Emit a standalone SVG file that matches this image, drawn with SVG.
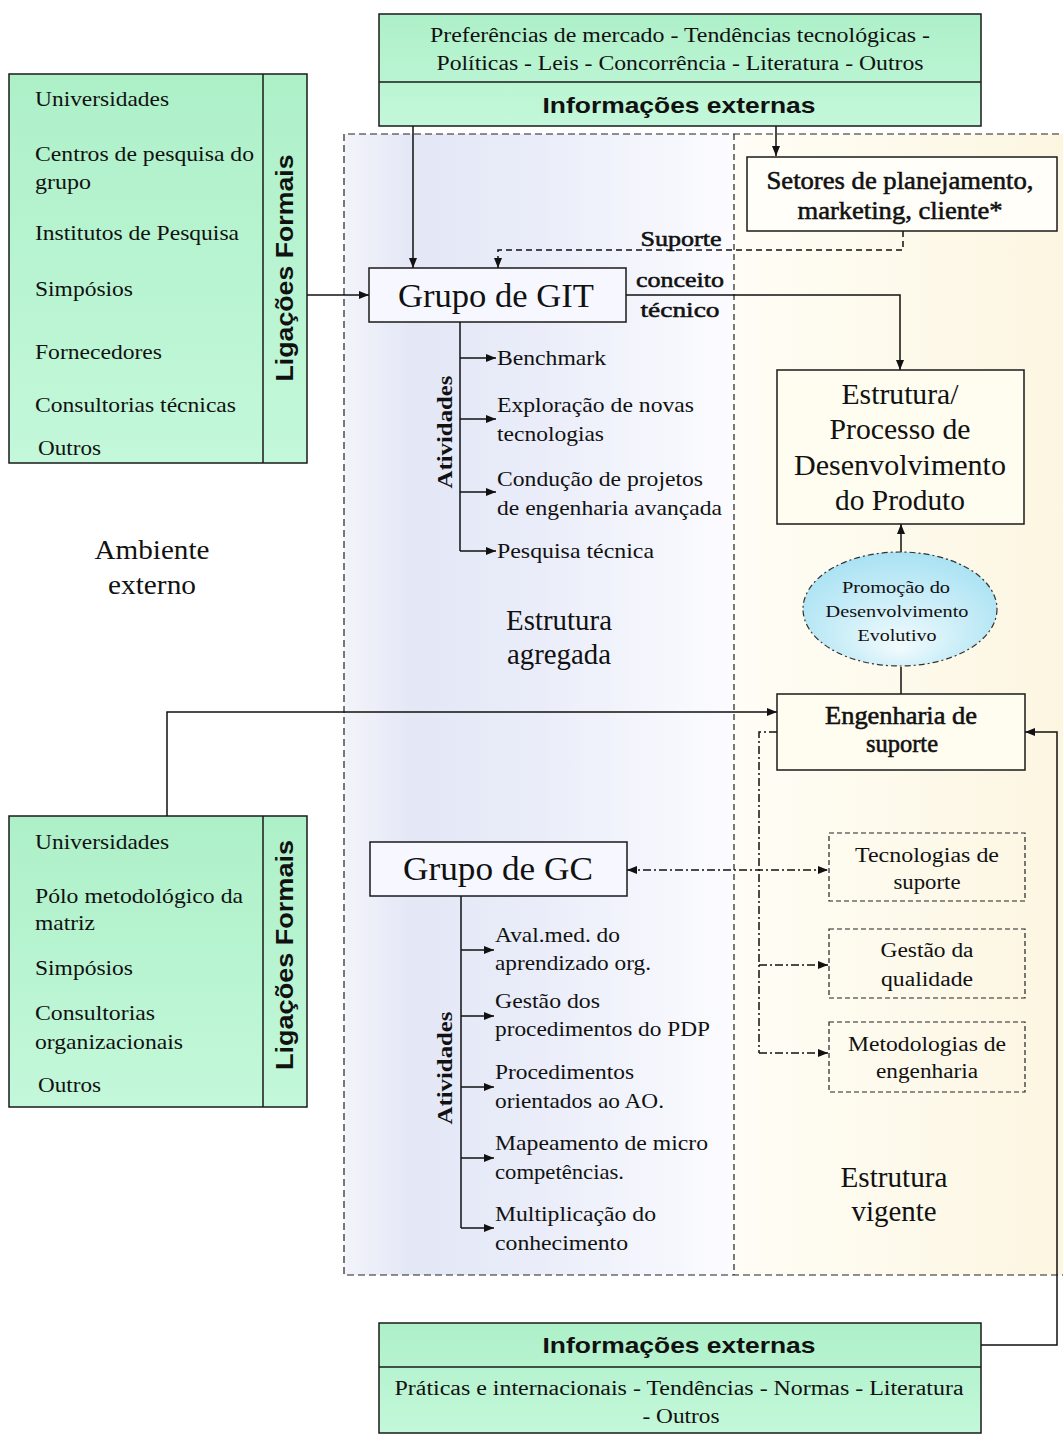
<svg xmlns="http://www.w3.org/2000/svg" width="1063" height="1435" viewBox="0 0 1063 1435">
<defs>
<style>
.serif{font-family:"Liberation Serif","Times New Roman",serif;fill:#111}
.semi{font-family:"Liberation Serif","Times New Roman",serif;fill:#111;stroke:#111;stroke-width:0.55}
.sb{font-family:"Liberation Serif","Times New Roman",serif;font-weight:bold;fill:#111}
.sans{font-family:"Liberation Sans",Arial,sans-serif;font-weight:bold;fill:#111}
.box{stroke:#1a1a1a;stroke-width:1.5}
.green{fill:url(#gGreen)}
.conn{fill:none;stroke:#111;stroke-width:1.5}
.dash{stroke-dasharray:6 4}
.dd{stroke-dasharray:8 3 2 3}
</style>
<linearGradient id="gGreen" x1="0" y1="0" x2="0" y2="1">
<stop offset="0" stop-color="#adf0c8"/>
<stop offset="1" stop-color="#c3f8da"/>
</linearGradient>
<linearGradient id="gLeft" x1="0" y1="0" x2="1" y2="0">
<stop offset="0" stop-color="#f3f4fa"/>
<stop offset="0.18" stop-color="#e3e7f6"/>
<stop offset="0.5" stop-color="#eaedf9"/>
<stop offset="1" stop-color="#fcfcff"/>
</linearGradient>
<linearGradient id="gRight" x1="0" y1="0" x2="1" y2="0">
<stop offset="0" stop-color="#fffdf6"/>
<stop offset="1" stop-color="#fcf6e1"/>
</linearGradient>
<radialGradient id="gEll" cx="0.5" cy="0.6" r="0.6" fx="0.5" fy="0.85">
<stop offset="0" stop-color="#f2fbfd"/>
<stop offset="1" stop-color="#a9e2f3"/>
</radialGradient>
<marker id="arr" viewBox="0 0 10 8" refX="10" refY="4" markerWidth="10" markerHeight="8" markerUnits="userSpaceOnUse" orient="auto-start-reverse">
<path d="M0,0 L10,4 L0,8 z" fill="#111"/>
</marker>
</defs>

<rect width="1063" height="1435" fill="#ffffff"/>

<g id="zones">
<rect x="344" y="134" width="390" height="1141" fill="url(#gLeft)"/>
<rect x="734" y="134" width="329" height="1141" fill="url(#gRight)"/>
<path d="M1070,134 H344 V1275 H1070" fill="none" stroke="#222" stroke-width="1.2" stroke-dasharray="7 4"/>
<line x1="734" y1="134" x2="734" y2="1275" stroke="#222" stroke-width="1.2" stroke-dasharray="6 4"/>
</g>

<g id="labels">
<text class="serif" font-size="28" x="152" y="559" text-anchor="middle" textLength="115" lengthAdjust="spacingAndGlyphs">Ambiente</text>
<text class="serif" font-size="28" x="152" y="594" text-anchor="middle" textLength="88" lengthAdjust="spacingAndGlyphs">externo</text>
<text class="serif" font-size="29" x="559" y="630" text-anchor="middle" textLength="106" lengthAdjust="spacingAndGlyphs">Estrutura</text>
<text class="serif" font-size="29" x="559" y="664" text-anchor="middle" textLength="104" lengthAdjust="spacingAndGlyphs">agregada</text>
<text class="serif" font-size="29" x="894" y="1187" text-anchor="middle" textLength="107" lengthAdjust="spacingAndGlyphs">Estrutura</text>
<text class="serif" font-size="29" x="894" y="1221" text-anchor="middle" textLength="85" lengthAdjust="spacingAndGlyphs">vigente</text>
<text class="semi" font-size="22" x="681" y="246" text-anchor="middle" textLength="81" lengthAdjust="spacingAndGlyphs">Suporte</text>
<text class="semi" font-size="22" x="680" y="287" text-anchor="middle" textLength="88" lengthAdjust="spacingAndGlyphs">conceito</text>
<text class="semi" font-size="22" x="680" y="317" text-anchor="middle" textLength="79" lengthAdjust="spacingAndGlyphs">técnico</text>
</g>

<g id="connectors">
<line class="conn" x1="413" y1="126" x2="413" y2="268" marker-end="url(#arr)"/>
<line class="conn" x1="776" y1="126" x2="776" y2="156" marker-end="url(#arr)"/>
<path class="conn dash" d="M903,231 V250 H498 V268" marker-end="url(#arr)"/>
<line class="conn" x1="307" y1="295" x2="369" y2="295" marker-end="url(#arr)"/>
<path class="conn" d="M626,295 H900 V370" marker-end="url(#arr)"/>
<path class="conn" d="M460,322 V551"/>
<line class="conn" x1="460" y1="358" x2="496" y2="358" marker-end="url(#arr)"/>
<line class="conn" x1="460" y1="419" x2="496" y2="419" marker-end="url(#arr)"/>
<line class="conn" x1="460" y1="492" x2="496" y2="492" marker-end="url(#arr)"/>
<line class="conn" x1="460" y1="551" x2="496" y2="551" marker-end="url(#arr)"/>
<line class="conn" x1="901" y1="552" x2="901" y2="524" stroke-width="3" marker-end="url(#arr)"/>
<line class="conn" x1="901" y1="667" x2="901" y2="694" stroke-width="3"/>
<path class="conn" d="M167,816 V712 H777" marker-end="url(#arr)"/>
<path class="conn" d="M981,1345 H1057 V732 H1025" marker-end="url(#arr)"/>
<path class="conn dd" d="M777,732 H759 V1053"/>
<line class="conn dd" x1="759" y1="965" x2="828" y2="965" marker-end="url(#arr)"/>
<line class="conn dd" x1="759" y1="1053" x2="828" y2="1053" marker-end="url(#arr)"/>
<line class="conn dd" x1="627" y1="870" x2="828" y2="870" marker-start="url(#arr)" marker-end="url(#arr)"/>
<path class="conn" d="M461,896 V1228"/>
<line class="conn" x1="461" y1="950" x2="494" y2="950" marker-end="url(#arr)"/>
<line class="conn" x1="461" y1="1016" x2="494" y2="1016" marker-end="url(#arr)"/>
<line class="conn" x1="461" y1="1087" x2="494" y2="1087" marker-end="url(#arr)"/>
<line class="conn" x1="461" y1="1158" x2="494" y2="1158" marker-end="url(#arr)"/>
<line class="conn" x1="461" y1="1228" x2="494" y2="1228" marker-end="url(#arr)"/>
</g>

<g id="info-top">
<rect class="box green" x="379" y="14" width="602" height="112"/>
<line x1="379" y1="82" x2="981" y2="82" stroke="#1a1a1a" stroke-width="1.5"/>
<text class="serif" font-size="20" x="680" y="42" text-anchor="middle" textLength="500" lengthAdjust="spacingAndGlyphs">Preferências de mercado - Tendências tecnológicas -</text>
<text class="serif" font-size="20" x="680" y="70" text-anchor="middle" textLength="487" lengthAdjust="spacingAndGlyphs">Políticas - Leis - Concorrência - Literatura - Outros</text>
<text class="sans" font-size="22" x="679" y="113" text-anchor="middle" textLength="273" lengthAdjust="spacingAndGlyphs">Informações externas</text>
</g>

<g id="ligacoes-top">
<rect class="box green" x="9" y="74" width="298" height="389"/>
<line x1="263" y1="74" x2="263" y2="463" stroke="#1a1a1a" stroke-width="1.5"/>
<text class="sans" font-size="23" transform="translate(293,268) rotate(-90)" text-anchor="middle" textLength="227" lengthAdjust="spacingAndGlyphs">Ligações Formais</text>
<text class="serif" font-size="22" x="35" y="106" textLength="134" lengthAdjust="spacingAndGlyphs">Universidades</text>
<text class="serif" font-size="22" x="35" y="161" textLength="219" lengthAdjust="spacingAndGlyphs">Centros de pesquisa do</text>
<text class="serif" font-size="22" x="35" y="189" textLength="56" lengthAdjust="spacingAndGlyphs">grupo</text>
<text class="serif" font-size="22" x="35" y="240" textLength="204" lengthAdjust="spacingAndGlyphs">Institutos de Pesquisa</text>
<text class="serif" font-size="22" x="35" y="296" textLength="98" lengthAdjust="spacingAndGlyphs">Simpósios</text>
<text class="serif" font-size="22" x="35" y="359" textLength="127" lengthAdjust="spacingAndGlyphs">Fornecedores</text>
<text class="serif" font-size="22" x="35" y="412" textLength="201" lengthAdjust="spacingAndGlyphs">Consultorias técnicas</text>
<text class="serif" font-size="22" x="38" y="455" textLength="63" lengthAdjust="spacingAndGlyphs">Outros</text>
</g>

<g id="setores">
<rect class="box" x="747" y="157" width="310" height="74" fill="#fffef8"/>
<text class="semi" font-size="25" x="900" y="189" text-anchor="middle" textLength="267" lengthAdjust="spacingAndGlyphs">Setores de planejamento,</text>
<text class="semi" font-size="25" x="900" y="219" text-anchor="middle" textLength="205" lengthAdjust="spacingAndGlyphs">marketing, cliente*</text>
</g>

<g id="grupo-git">
<rect class="box" x="369" y="268" width="257" height="54" fill="#f7f8ff"/>
<text class="serif" font-size="34" x="496" y="307" text-anchor="middle" textLength="196" lengthAdjust="spacingAndGlyphs">Grupo de GIT</text>
</g>

<g id="atividades-git">
<text class="sb" font-size="20" transform="translate(452,432) rotate(-90)" text-anchor="middle" textLength="113" lengthAdjust="spacingAndGlyphs">Atividades</text>
<text class="serif" font-size="21" x="497" y="365" textLength="109" lengthAdjust="spacingAndGlyphs">Benchmark</text>
<text class="serif" font-size="21" x="497" y="412" textLength="197" lengthAdjust="spacingAndGlyphs">Exploração de novas</text>
<text class="serif" font-size="21" x="497" y="441" textLength="107" lengthAdjust="spacingAndGlyphs">tecnologias</text>
<text class="serif" font-size="21" x="497" y="486" textLength="206" lengthAdjust="spacingAndGlyphs">Condução de projetos</text>
<text class="serif" font-size="21" x="497" y="515" textLength="225" lengthAdjust="spacingAndGlyphs">de engenharia avançada</text>
<text class="serif" font-size="21" x="497" y="558" textLength="157" lengthAdjust="spacingAndGlyphs">Pesquisa técnica</text>
</g>

<g id="estrutura-pdp">
<rect class="box" x="777" y="370" width="247" height="154" fill="#fffcf0"/>
<text class="serif" font-size="29" x="900" y="404" text-anchor="middle" textLength="117" lengthAdjust="spacingAndGlyphs">Estrutura/</text>
<text class="serif" font-size="29" x="900" y="439" text-anchor="middle" textLength="141" lengthAdjust="spacingAndGlyphs">Processo de</text>
<text class="serif" font-size="29" x="900" y="475" text-anchor="middle" textLength="212" lengthAdjust="spacingAndGlyphs">Desenvolvimento</text>
<text class="serif" font-size="29" x="900" y="510" text-anchor="middle" textLength="130" lengthAdjust="spacingAndGlyphs">do Produto</text>
</g>

<g id="promocao">
<ellipse cx="900" cy="609" rx="97" ry="57" fill="url(#gEll)" stroke="#333" stroke-width="1.2" stroke-dasharray="6 3 2 3"/>
<text class="serif" font-size="16" x="896" y="593" text-anchor="middle" textLength="108" lengthAdjust="spacingAndGlyphs">Promoção do</text>
<text class="serif" font-size="16" x="897" y="617" text-anchor="middle" textLength="143" lengthAdjust="spacingAndGlyphs">Desenvolvimento</text>
<text class="serif" font-size="16" x="897" y="641" text-anchor="middle" textLength="79" lengthAdjust="spacingAndGlyphs">Evolutivo</text>
</g>

<g id="engenharia-suporte">
<rect class="box" x="777" y="694" width="248" height="76" fill="#fffcf0"/>
<text class="semi" font-size="25" x="901" y="724" text-anchor="middle" textLength="152" lengthAdjust="spacingAndGlyphs">Engenharia de</text>
<text class="semi" font-size="25" x="902" y="752" text-anchor="middle" textLength="72" lengthAdjust="spacingAndGlyphs">suporte</text>
</g>

<g id="tecnologias">
<rect x="829" y="833" width="196" height="68" fill="none" stroke="#222" stroke-width="1.2" stroke-dasharray="5 3"/>
<text class="serif" font-size="20" x="927" y="862" text-anchor="middle" textLength="144" lengthAdjust="spacingAndGlyphs">Tecnologias de</text>
<text class="serif" font-size="20" x="927" y="889" text-anchor="middle" textLength="67" lengthAdjust="spacingAndGlyphs">suporte</text>
</g>

<g id="gestao-qualidade">
<rect x="829" y="929" width="196" height="69" fill="none" stroke="#222" stroke-width="1.2" stroke-dasharray="5 3"/>
<text class="serif" font-size="20" x="927" y="957" text-anchor="middle" textLength="93" lengthAdjust="spacingAndGlyphs">Gestão da</text>
<text class="serif" font-size="20" x="927" y="986" text-anchor="middle" textLength="92" lengthAdjust="spacingAndGlyphs">qualidade</text>
</g>

<g id="metodologias">
<rect x="829" y="1022" width="196" height="70" fill="none" stroke="#222" stroke-width="1.2" stroke-dasharray="5 3"/>
<text class="serif" font-size="20" x="927" y="1051" text-anchor="middle" textLength="158" lengthAdjust="spacingAndGlyphs">Metodologias de</text>
<text class="serif" font-size="20" x="927" y="1078" text-anchor="middle" textLength="102" lengthAdjust="spacingAndGlyphs">engenharia</text>
</g>

<g id="grupo-gc">
<rect class="box" x="370" y="842" width="257" height="54" fill="#f7f8ff"/>
<text class="serif" font-size="34" x="498" y="880" text-anchor="middle" textLength="190" lengthAdjust="spacingAndGlyphs">Grupo de GC</text>
</g>

<g id="atividades-gc">
<text class="sb" font-size="20" transform="translate(452,1068) rotate(-90)" text-anchor="middle" textLength="113" lengthAdjust="spacingAndGlyphs">Atividades</text>
<text class="serif" font-size="21" x="495" y="942" textLength="125" lengthAdjust="spacingAndGlyphs">Aval.med. do</text>
<text class="serif" font-size="21" x="495" y="970" textLength="156" lengthAdjust="spacingAndGlyphs">aprendizado org.</text>
<text class="serif" font-size="21" x="495" y="1008" textLength="105" lengthAdjust="spacingAndGlyphs">Gestão dos</text>
<text class="serif" font-size="21" x="495" y="1036" textLength="215" lengthAdjust="spacingAndGlyphs">procedimentos do PDP</text>
<text class="serif" font-size="21" x="495" y="1079" textLength="139" lengthAdjust="spacingAndGlyphs">Procedimentos</text>
<text class="serif" font-size="21" x="495" y="1108" textLength="169" lengthAdjust="spacingAndGlyphs">orientados ao AO.</text>
<text class="serif" font-size="21" x="495" y="1150" textLength="213" lengthAdjust="spacingAndGlyphs">Mapeamento de micro</text>
<text class="serif" font-size="21" x="495" y="1179" textLength="129" lengthAdjust="spacingAndGlyphs">competências.</text>
<text class="serif" font-size="21" x="495" y="1221" textLength="161" lengthAdjust="spacingAndGlyphs">Multiplicação do</text>
<text class="serif" font-size="21" x="495" y="1250" textLength="133" lengthAdjust="spacingAndGlyphs">conhecimento</text>
</g>

<g id="ligacoes-bottom">
<rect class="box green" x="9" y="816" width="298" height="291"/>
<line x1="263" y1="816" x2="263" y2="1107" stroke="#1a1a1a" stroke-width="1.5"/>
<text class="sans" font-size="23" transform="translate(293,955) rotate(-90)" text-anchor="middle" textLength="230" lengthAdjust="spacingAndGlyphs">Ligações Formais</text>
<text class="serif" font-size="22" x="35" y="849" textLength="134" lengthAdjust="spacingAndGlyphs">Universidades</text>
<text class="serif" font-size="22" x="35" y="903" textLength="208" lengthAdjust="spacingAndGlyphs">Pólo metodológico da</text>
<text class="serif" font-size="22" x="35" y="930" textLength="60" lengthAdjust="spacingAndGlyphs">matriz</text>
<text class="serif" font-size="22" x="35" y="975" textLength="98" lengthAdjust="spacingAndGlyphs">Simpósios</text>
<text class="serif" font-size="22" x="35" y="1020" textLength="120" lengthAdjust="spacingAndGlyphs">Consultorias</text>
<text class="serif" font-size="22" x="35" y="1049" textLength="148" lengthAdjust="spacingAndGlyphs">organizacionais</text>
<text class="serif" font-size="22" x="38" y="1092" textLength="63" lengthAdjust="spacingAndGlyphs">Outros</text>
</g>

<g id="info-bottom">
<rect class="box green" x="379" y="1323" width="602" height="110"/>
<line x1="379" y1="1367" x2="981" y2="1367" stroke="#1a1a1a" stroke-width="1.5"/>
<text class="sans" font-size="22" x="679" y="1353" text-anchor="middle" textLength="273" lengthAdjust="spacingAndGlyphs">Informações externas</text>
<text class="serif" font-size="20" x="679" y="1395" text-anchor="middle" textLength="569" lengthAdjust="spacingAndGlyphs">Práticas e internacionais - Tendências  - Normas - Literatura</text>
<text class="serif" font-size="20" x="681" y="1423" text-anchor="middle" textLength="77" lengthAdjust="spacingAndGlyphs">- Outros</text>
</g>
</svg>
